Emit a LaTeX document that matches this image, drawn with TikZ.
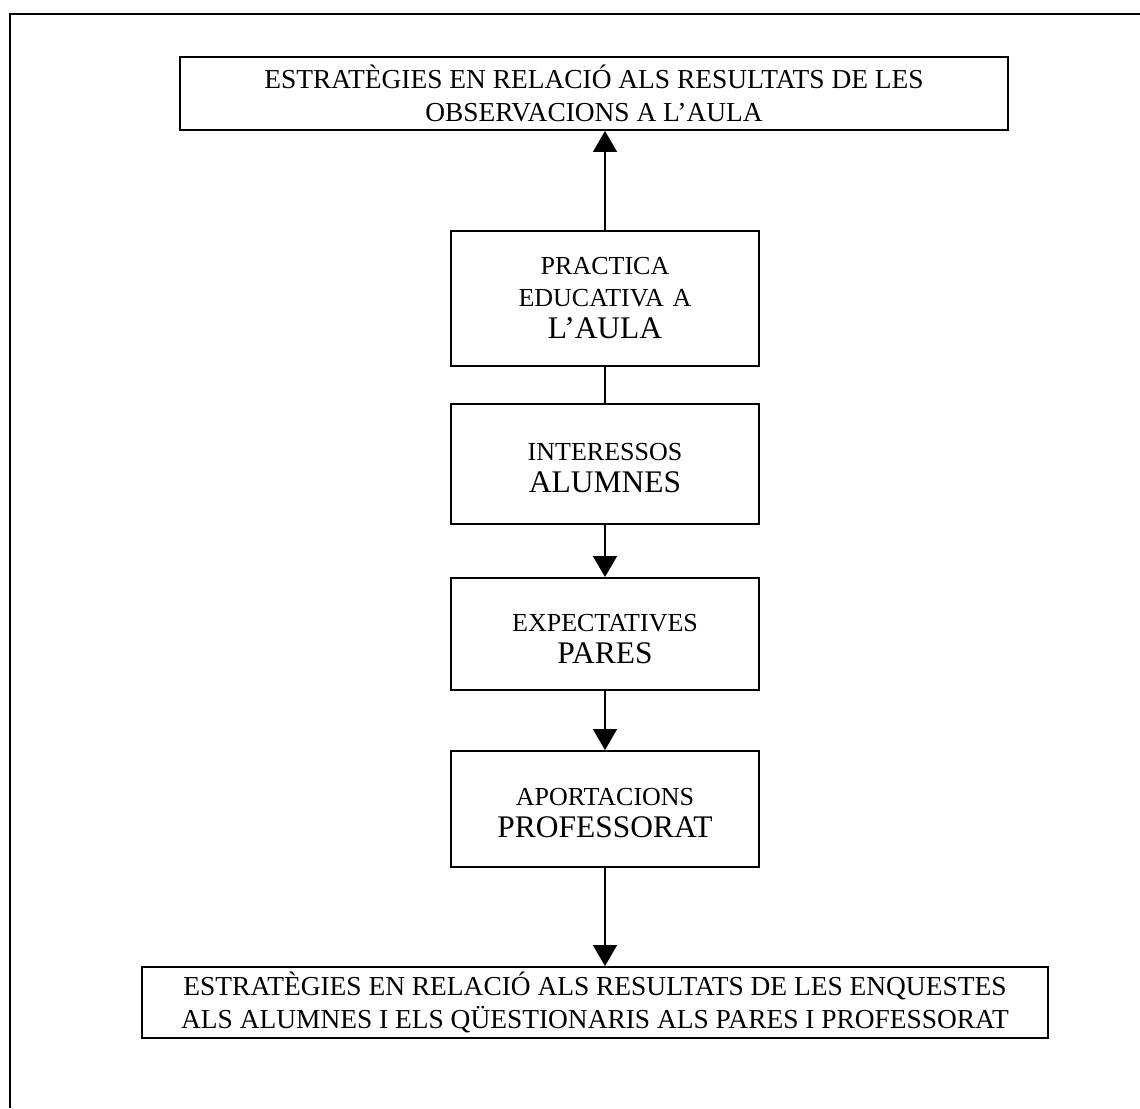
\documentclass[tikz,border=0pt]{standalone}
\usepackage{fontspec}
\setmainfont{Liberation Serif}
\usepackage{tikz}
\usetikzlibrary{arrows.meta, positioning}
\newcommand\lbltxt{\fontsize{14.8}{18.2}\selectfont}
\newcommand\lblbig{\fontsize{17.9}{18.2}\selectfont}
\newcommand\lblwide{\fontsize{15.6}{18.6}\selectfont}
\tikzset{
  widebox/.style={rectangle, draw=black, line width=1.1pt, align=center,
    inner sep=0pt, font=\lblwide},
  stagebox/.style={rectangle, draw=black, line width=1.1pt, align=center,
    inner sep=0pt, minimum width=6.16cm, text width=6cm, font=\lbltxt},
  flow/.style={-{Triangle[width=0.48cm,length=0.42cm]}, line width=0.8pt},
  link/.style={line width=0.8pt}
}
\begin{document}
\begin{tikzpicture}
  \useasboundingbox (0,0) rectangle (22.8,-22.16);
  % Frame
  \draw[line width=1.1pt] (0.2,-22.16) -- (0.2,-0.28) -- (22.8,-0.28);

  % Strategy boxes
  \node[widebox, minimum width=16.56cm, minimum height=1.46cm] (obs) at (11.88,-1.87)
    {ESTRATÈGIES EN RELACIÓ ALS RESULTATS DE LES\\OBSERVACIONS A L’AULA};
  \node[widebox, minimum width=18.12cm, minimum height=1.42cm] (enq) at (11.90,-20.05)
    {ESTRATÈGIES EN RELACIÓ ALS RESULTATS DE LES ENQUESTES\\ALS ALUMNES I ELS QÜESTIONARIS ALS PARES I PROFESSORAT};

  % Stages
  \node[stagebox, minimum height=2.70cm] (prac) at (12.10,-5.97)
    {PRACTICA\\EDUCATIVA A\\{\lblbig L’AULA}};
  \node[stagebox, minimum height=2.40cm, text depth=0.5cm] (alum) at (12.10,-9.28)
    {INTERESSOS\\{\lblbig ALUMNES}};
  \node[stagebox, minimum height=2.24cm, text depth=0.45cm] (pares) at (12.10,-12.68)
    {EXPECTATIVES\\{\lblbig PARES}};
  \node[stagebox, minimum height=2.32cm, text depth=0.5cm] (prof) at (12.10,-16.18)
    {APORTACIONS\\{\lblbig PROFESSORAT}};

  % Connectors
  \draw[flow] (prac.north) -- (prac.north |- obs.south);
  \draw[link] (prac.south) -- (alum.north);
  \draw[flow] (alum.south) -- (pares.north);
  \draw[flow] (pares.south) -- (prof.north);
  \draw[flow] (prof.south) -- (prof.south |- enq.north);
\end{tikzpicture}
\end{document}
